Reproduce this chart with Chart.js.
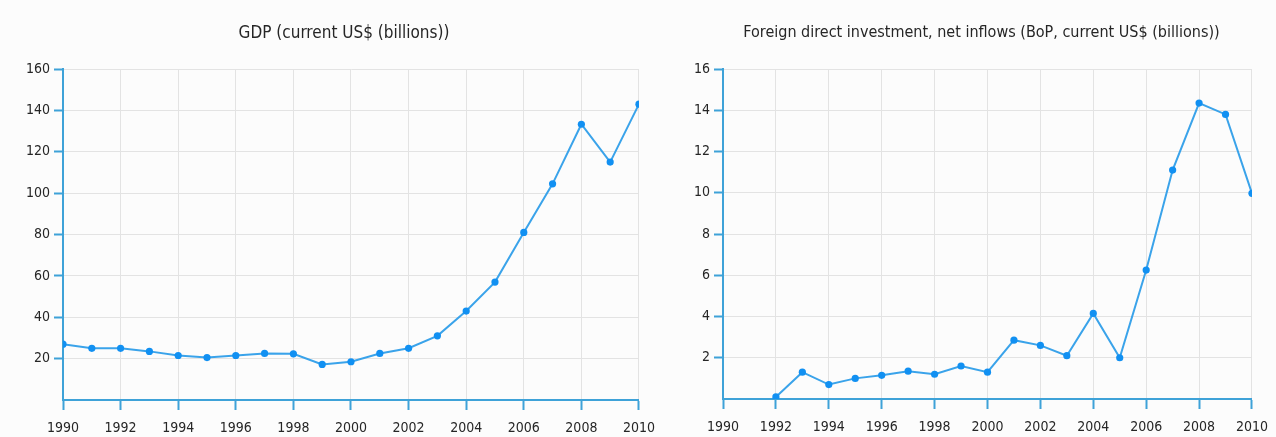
<!DOCTYPE html>
<html>
<head>
<meta charset="utf-8">
<script src="https://cdn.jsdelivr.net/npm/chart.js@4/dist/chart.umd.min.js"></script>
<style>
  html, body { margin: 0; padding: 0; background: #fcfcfc; }
  body { width: 1276px; height: 437px; position: relative; overflow: hidden; }
  canvas { position: absolute; top: 0; }
  #c1 { left: 0; }
  #c2 { left: 660px; }
</style>
</head>
<body>
<canvas id="c1" width="665" height="437"></canvas>
<canvas id="c2" width="618" height="437"></canvas>
<script>
// ---- data ----
const years = [1990, 1991, 1992, 1993, 1994, 1995, 1996, 1997, 1998, 1999, 2000,
               2001, 2002, 2003, 2004, 2005, 2006, 2007, 2008, 2009, 2010];
const gdpTitle = 'GDP (current US$ (billions))';
const gdpValues = [27, 25, 25, 23.5, 21.5, 20.5, 21.5, 22.5, 22.3, 17.2, 18.5,
                   22.5, 25, 31, 43, 57, 81, 104.5, 133.3, 115, 143];
const fdiTitle = 'Foreign direct investment, net inflows (BoP, current US$ (billions))';
const fdiValues = [null, null, 0.1, 1.3, 0.7, 1.0, 1.15, 1.35, 1.2, 1.6, 1.3,
                   2.85, 2.6, 2.1, 4.15, 2.0, 6.25, 11.1, 14.35, 13.8, 9.97];
const gdpTicks = { min: 0, max: 160, step: 20 };
const fdiTicks = { min: 0, max: 16, step: 2 };
const xTicks = { min: 1990, max: 2010, step: 2 };

// ---- styling ----
const FONT = "'DejaVu Sans Condensed', 'DejaVu Sans', sans-serif";
const AXIS = '#3ea2d8';
const GRID = '#e3e3e3';
const LINE = '#3aa3ea';
const POINT = '#1190f2';
const TXT = '#262626';

const titleShift = {
  id: 'titleShift',
  afterLayout(chart, args, opts) {
    const t = chart.titleBlock;
    if (!t) return;
    const c = (chart.chartArea.left + chart.chartArea.right) / 2 + (opts.dx || 0);
    const half = chart.width / 2;
    t.left = c - half;
    t.right = c + half;
    t.width = 2 * half;
  }
};

function makeChart(id, title, values, yt, padRight, xHeight, dx, titleSize) {
  const pts = years.map((y, i) => ({ x: y, y: values[i] }));
  return new Chart(document.getElementById(id), {
    type: 'line',
    data: {
      datasets: [{
        data: pts,
        borderColor: LINE,
        borderWidth: 2,
        backgroundColor: POINT,
        pointBackgroundColor: POINT,
        pointBorderColor: POINT,
        pointBorderWidth: 0,
        pointRadius: 3.6,
        tension: 0,
        spanGaps: false
      }]
    },
    options: {
      responsive: false,
      animation: false,
      events: [],
      layout: { padding: { left: 0, right: padRight, top: 0, bottom: 0 } },
      plugins: {
        legend: { display: false },
        tooltip: { enabled: false },
        title: {
          display: true,
          text: title,
          color: TXT,
          font: { family: FONT, size: titleSize, weight: 'normal', lineHeight: 1.2 },
          padding: { top: 23, bottom: 46 - titleSize * 1.2 }
        },
        titleShift: { dx: dx }
      },
      scales: {
        x: {
          type: 'linear',
          min: xTicks.min,
          max: xTicks.max,
          afterBuildTicks(scale) {
            const t = [];
            for (let v = xTicks.min; v <= xTicks.max; v += xTicks.step) t.push({ value: v });
            scale.ticks = t;
          },
          afterFit(scale) { scale.height = xHeight; },
          border: { display: true, color: AXIS, width: 2 },
          grid: { color: GRID, lineWidth: 1, tickColor: AXIS, tickWidth: 2, tickLength: 10, drawTicks: true },
          ticks: {
            color: TXT,
            font: { family: FONT, size: 14 },
            padding: 10,
            maxRotation: 0,
            autoSkip: false,
            callback: v => String(v)
          }
        },
        y: {
          type: 'linear',
          min: yt.min,
          max: yt.max,
          afterBuildTicks(scale) {
            const t = [];
            for (let v = yt.min; v <= yt.max + 1e-9; v += yt.step) t.push({ value: v });
            scale.ticks = t;
          },
          afterFit(scale) { scale.width = 63; },
          border: { display: true, color: AXIS, width: 2 },
          grid: { color: GRID, lineWidth: 1, tickColor: AXIS, tickWidth: 2, tickLength: 9, drawTicks: true },
          ticks: {
            color: TXT,
            font: { family: FONT, size: 14 },
            padding: 4,
            autoSkip: false,
            callback: v => (v === 0 ? null : String(v))
          }
        }
      }
    },
    plugins: [titleShift]
  });
}

makeChart('c1', gdpTitle, gdpValues, gdpTicks, 26, 37, -7, 17);
makeChart('c2', fdiTitle, fdiValues, fdiTicks, 26, 38, -6, 16);
</script>
</body>
</html>
